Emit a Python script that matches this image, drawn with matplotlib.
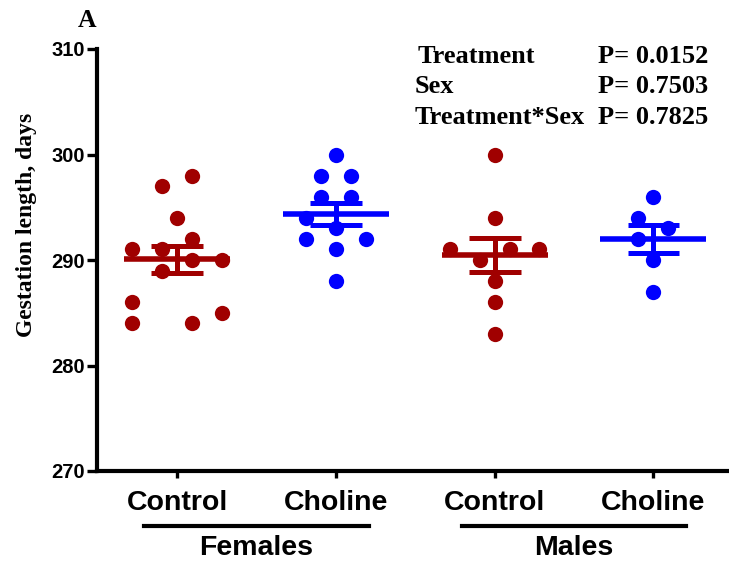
import matplotlib
matplotlib.use("Agg")
import matplotlib.pyplot as plt
import numpy as np

# group layout
groups = ["Control", "Choline", "Control", "Choline"]
sexes = ["Females", "Males"]
colors = ["#a00000", "#0000ff", "#a00000", "#0000ff"]

# gestation length (days)
fem_control = [297, 298, 294, 292, 291, 291, 290, 290, 289, 286, 284, 284, 285]
fem_choline = [300, 298, 298, 296, 296, 294, 293, 292, 292, 291, 288]
male_control = [300, 294, 291, 291, 291, 290, 288, 286, 283]
male_choline = [296, 294, 293, 292, 290, 287]

# scatter column slots (GraphPad style spreading)
fem_control_slot = [-1, 1, 0, 1, -3, -1, 1, 3, -1, -3, -3, 1, 3]
fem_choline_slot = [0, -1, 1, -1, 1, -2, 0, -2, 2, 0, 0]
male_control_slot = [0, 0, -3, 1, 3, -1, 0, 0, 0]
male_choline_slot = [0, -1, 1, -1, 0, 0]

stats_names = ["Treatment", "Sex", "Treatment*Sex"]
stats_p = ["P= 0.0152", "P= 0.7503", "P= 0.7825"]

data = [fem_control, fem_choline, male_control, male_choline]
slots = [fem_control_slot, fem_choline_slot, male_control_slot, male_choline_slot]

W, H = 729, 565
fig = plt.figure(figsize=(W / 100, H / 100), dpi=100)
fig.patch.set_facecolor("white")
ax = fig.add_axes([97 / W, 1 - 471 / H, 1 - 97 / W, (471 - 49) / H])

sans = "Liberation Sans"
serif = "Liberation Serif"
step = 0.094

for i, (vals, sl, c) in enumerate(zip(data, slots, colors)):
    vals = np.array(vals, dtype=float)
    xs = i + np.array(sl) * step
    ax.plot(xs, vals, "o", color=c, markersize=11, markeredgewidth=0, zorder=3)
    m = vals.mean()
    sem = vals.std(ddof=1) / np.sqrt(len(vals))
    ax.plot([i - 0.334, i + 0.334], [m, m], color=c, lw=4, solid_capstyle="butt", zorder=4)
    ax.plot([i, i], [m - sem, m + sem], color=c, lw=3.6, solid_capstyle="butt", zorder=4)
    for y in (m - sem, m + sem):
        ax.plot([i - 0.163, i + 0.163], [y, y], color=c, lw=3.6, solid_capstyle="butt", zorder=4)

ax.set_xlim(-0.504, 3.476)
ax.set_ylim(270, 310)
ax.set_yticks([270, 280, 290, 300, 310])
ax.set_xticks(range(4))
ax.set_xticklabels(groups)

for s in ["top", "right"]:
    ax.spines[s].set_visible(False)
for s in ["left", "bottom"]:
    ax.spines[s].set_linewidth(3)
ax.tick_params(axis="y", length=7, width=2.4, pad=2, labelsize=14.5)
ax.tick_params(axis="x", length=5, width=2.4, pad=9, labelsize=20.5)
for lab in ax.get_yticklabels() + ax.get_xticklabels():
    lab.set_fontfamily(sans)
    lab.set_fontweight("bold")

# sex group underlines and names
xt = ax.get_xaxis_transform()
line_y = -(526 - 471) / (471 - 49)
name_y = -(555 - 471) / (471 - 49)
for k, name in enumerate(sexes):
    cx = 2 * k + 0.5
    ax.plot([cx - 0.708, cx + 0.708], [line_y, line_y], color="black", lw=3,
            transform=xt, clip_on=False)
    ax.text(cx, name_y, name, transform=xt, ha="center", va="baseline",
            fontsize=20.5, fontweight="bold", family=sans)

fig.text(27 / W, 1 - 225 / H, "Gestation length, days", rotation=90, ha="center", va="center",
         fontsize=17, fontweight="bold", family=serif)
fig.text(87 / W, 1 - 27 / H, "A", ha="center", va="baseline",
         fontsize=18.5, fontweight="bold", family=serif)

for j, (nm, p) in enumerate(zip(stats_names, stats_p)):
    yb = 1 - (63 + 30.3 * j) / H
    fig.text((418 if j == 0 else 415) / W, yb, nm, ha="left", va="baseline",
             fontsize=19, fontweight="bold", family=serif)
    fig.text(708 / W, yb, p, ha="right", va="baseline",
             fontsize=19, fontweight="bold", family=serif)

fig.savefig("out.png", dpi=100, facecolor="white")
